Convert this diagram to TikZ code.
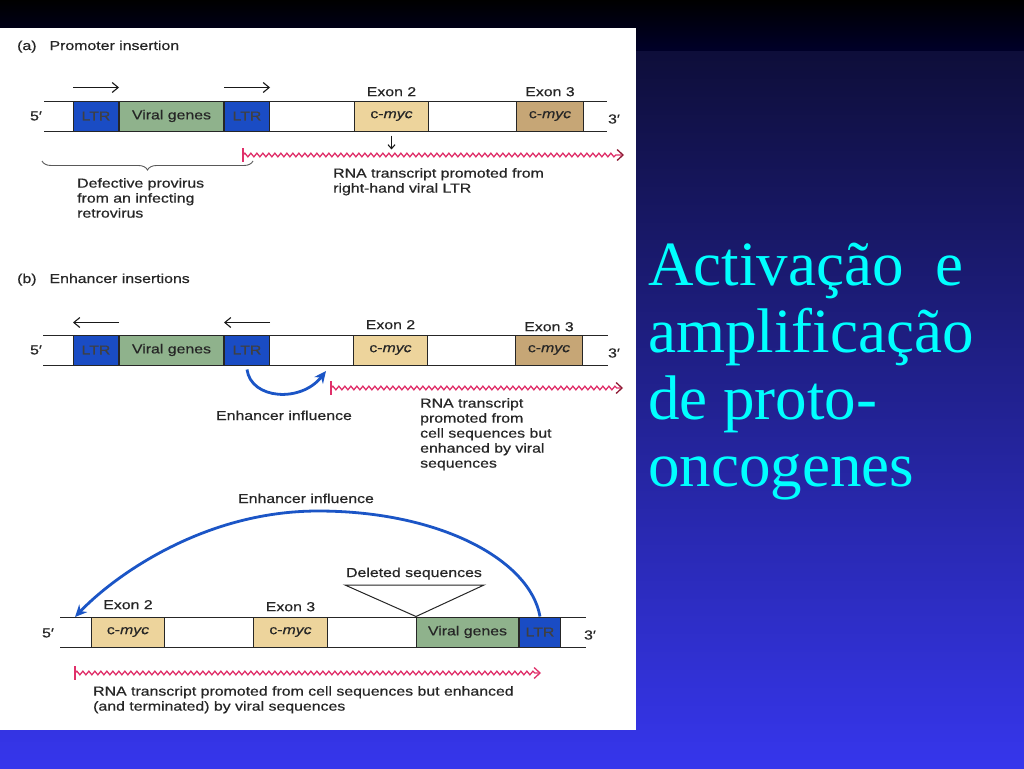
\documentclass[tikz,border=0pt]{standalone}
\usepackage{fontspec}
\setmainfont{Liberation Serif}
\newfontfamily\figfont[FakeStretch=1.22, FakeBold=0.5]{Liberation Sans}
\usepackage{tikz}
\usetikzlibrary{calc, positioning, arrows.meta, decorations.pathmorphing, decorations.pathreplacing}

\definecolor{bgtop}{HTML}{000000}
\definecolor{bgband}{HTML}{00002A}
\definecolor{bgupper}{HTML}{0E0E3A}
\definecolor{bgmid}{HTML}{2626BC}
\definecolor{bgbot}{HTML}{3636EC}
\definecolor{ltrblue}{HTML}{1A4CC4}
\definecolor{viralgreen}{HTML}{8FB28C}
\definecolor{myclight}{HTML}{EDD49C}
\definecolor{mycdark}{HTML}{C6A676}
\definecolor{enhblue}{HTML}{1B55C6}
\definecolor{rnared}{HTML}{E0306A}
\definecolor{rnadark}{HTML}{8E1A34}
\definecolor{titlecyan}{HTML}{00FFFF}

\begin{document}
\begin{tikzpicture}[x=1pt, y=-1pt,
    lbl/.style={font=\figfont\fontsize{13}{15}\selectfont, text=black!85, inner sep=0pt},
    seg/.style={lbl, draw=black!85, line width=1pt, minimum height=30pt, anchor=west},
    ltr/.style={seg, fill=ltrblue, minimum width=45pt, text=black!75},
    viral/.style={seg, fill=viralgreen, minimum width=#1},
    myc/.style={seg, fill=#1, minimum width=74pt},
    strand/.style={draw=black!85, line width=1pt},
    dirarrow/.style={draw=black!90, line width=1.1pt, -{Straight Barb[length=6pt,width=10pt]}},
    rna/.style={draw=rnared, line width=1.3pt, decorate, decoration={snake, amplitude=1.8pt, segment length=6pt, post length=6pt}},
    rnaend/.style={-{Straight Barb[length=6pt,width=11pt,line width=1.3pt,color=#1]}},
    rnatick/.style={draw=rnared, line width=1.2pt},
    enh/.style={draw=enhblue, line width=2.8pt, -{Stealth[length=12pt,width=11pt]}},
    title/.style={anchor=base west, inner sep=0pt, text=titlecyan, font=\fontsize{63}{67}\selectfont}
]
\useasboundingbox (0,0) rectangle (1024,768);
\shade[top color=bgtop, bottom color=bgband] (0,0) rectangle (1024,52);
\shade[top color=bgupper, middle color=bgmid, bottom color=bgbot] (0,52) rectangle (1024,768);
\fill[white] (0,28) rectangle (636,730);

\foreach \txt [count=\i from 0] in {Activação~~e, amplificação, de proto-, oncogenes}
  \node[title] (title\i) at (648,285+67*\i) {\txt};

\foreach \y/\xa/\xb in {116/44/607, 350/43/608, 632/60/586}
  \draw[strand] (\xa,\y-15) -- (\xb,\y-15) (\xa,\y+15) -- (\xb,\y+15);

\node[lbl, anchor=base west] (capA) at (17,50) {(a)\hspace{13pt}Promoter insertion};
\node[lbl] (p5A) at (36,116) {5′};
\node[lbl] (p3A) at (614,119) {3′};
\node[ltr] (ltrA1) at (73,116) {LTR};
\node[viral=104pt, right=0pt of ltrA1] (virA) {Viral genes};
\node[ltr, right=0pt of virA] (ltrA2) {LTR};
\node[myc=myclight] (exA2) at (354,116) {c-\textit{myc}};
\node[myc=mycdark, minimum width=67pt] (exA3) at (516,116) {c-\textit{myc}};
\node[lbl, above=4pt of exA2] (exA2l) {Exon 2};
\node[lbl, above=4pt of exA3] (exA3l) {Exon 3};
\foreach \b in {ltrA1, ltrA2}
  \draw[dirarrow] ($(\b.north west)+(0,-13)$) -- ($(\b.north east)+(0,-13)$);
\draw[dirarrow, -{Straight Barb[length=4pt,width=7pt]}] ($(exA2.south)+(0,4)$) -- ++(0,14);
\coordinate (rA) at (243,155);
\coordinate (rAend) at (624,155);
\draw[rna, rnaend=rnadark] (rA) -- (rAend);
\draw[rnatick] ($(rA)+(0,-7)$) -- ($(rA)+(0,7)$);
\draw[black!65, line width=0.9pt, decorate, decoration={brace, mirror, amplitude=9pt}] (42,161) -- (253,161);
\node[lbl, align=left, anchor=north west] (defA) at (77,178) {Defective provirus\\from an infecting\\retrovirus};
\node[lbl, align=left, anchor=north west] (rnaAl) at (333,168) {RNA transcript promoted from\\right-hand viral LTR};

\node[lbl, anchor=base west] (capB) at (17,283) {(b)\hspace{13pt}Enhancer insertions};
\node[lbl] (p5B) at (36,350) {5′};
\node[lbl] (p3B) at (614,353) {3′};
\node[ltr] (ltrB1) at (73,350) {LTR};
\node[viral=104pt, right=0pt of ltrB1] (virB) {Viral genes};
\node[ltr, right=0pt of virB] (ltrB2) {LTR};
\node[myc=myclight] (exB2) at (353,350) {c-\textit{myc}};
\node[myc=mycdark, minimum width=67pt] (exB3) at (515,350) {c-\textit{myc}};
\node[lbl, above=5pt of exB2] (exB2l) {Exon 2};
\node[lbl, above=3pt of exB3] (exB3l) {Exon 3};
\foreach \b in {ltrB1, ltrB2}
  \draw[dirarrow] ($(\b.north east)+(0,-12)$) -- ($(\b.north west)+(0,-12)$);
\coordinate (enhB) at (326,371);
\draw[enh] ($(ltrB2.south)+(0,4)$) .. controls +(4,30) and +(-25,32) .. (enhB);
\node[lbl, anchor=base] (enhBl) at (284,420) {Enhancer influence};
\coordinate (rB) at (331,388);
\coordinate (rBend) at (623,388);
\draw[rna, rnaend=rnadark] (rB) -- (rBend);
\draw[rnatick] ($(rB)+(0,-7)$) -- ($(rB)+(0,7)$);
\node[lbl, align=left, anchor=north west] (rnaBl) at (420,398) {RNA transcript\\promoted from\\cell sequences but\\enhanced by viral\\sequences};

\node[lbl] (p5C) at (48,633) {5′};
\node[lbl] (p3C) at (590,635) {3′};
\node[myc=myclight, minimum width=73pt] (exC2) at (91,632) {c-\textit{myc}};
\node[myc=myclight] (exC3) at (253,632) {c-\textit{myc}};
\node[viral=102pt] (virC) at (416,632) {Viral genes};
\node[ltr, minimum width=41pt, right=0pt of virC] (ltrC) {LTR};
\node[lbl, above=7pt of exC2] (exC2l) {Exon 2};
\node[lbl, above=5pt of exC3] (exC3l) {Exon 3};
\draw[black!85, line width=1pt] (345,585) -- (484,585) -- (virC.north west) -- cycle;
\node[lbl, anchor=base] (delC) at (414,577) {Deleted sequences};
\coordinate (peakC) at (318,511);
\coordinate (enhC) at (75,617);
\draw[enh] (ltrC.north) .. controls (530,560) and (440,511) .. (peakC) .. controls (200,511) and (110,580) .. (enhC);
\node[lbl, anchor=base] (enhCl) at (306,503) {Enhancer influence};
\coordinate (rC) at (75,673);
\coordinate (rCend) at (541,673);
\draw[rna, rnaend=rnared] (rC) -- (rCend);
\draw[rnatick] ($(rC)+(0,-7)$) -- ($(rC)+(0,7)$);
\node[lbl, align=left, anchor=north west] (rnaCl) at (93,686) {RNA transcript promoted from cell sequences but enhanced\\(and terminated) by viral sequences};
\end{tikzpicture}
\end{document}
